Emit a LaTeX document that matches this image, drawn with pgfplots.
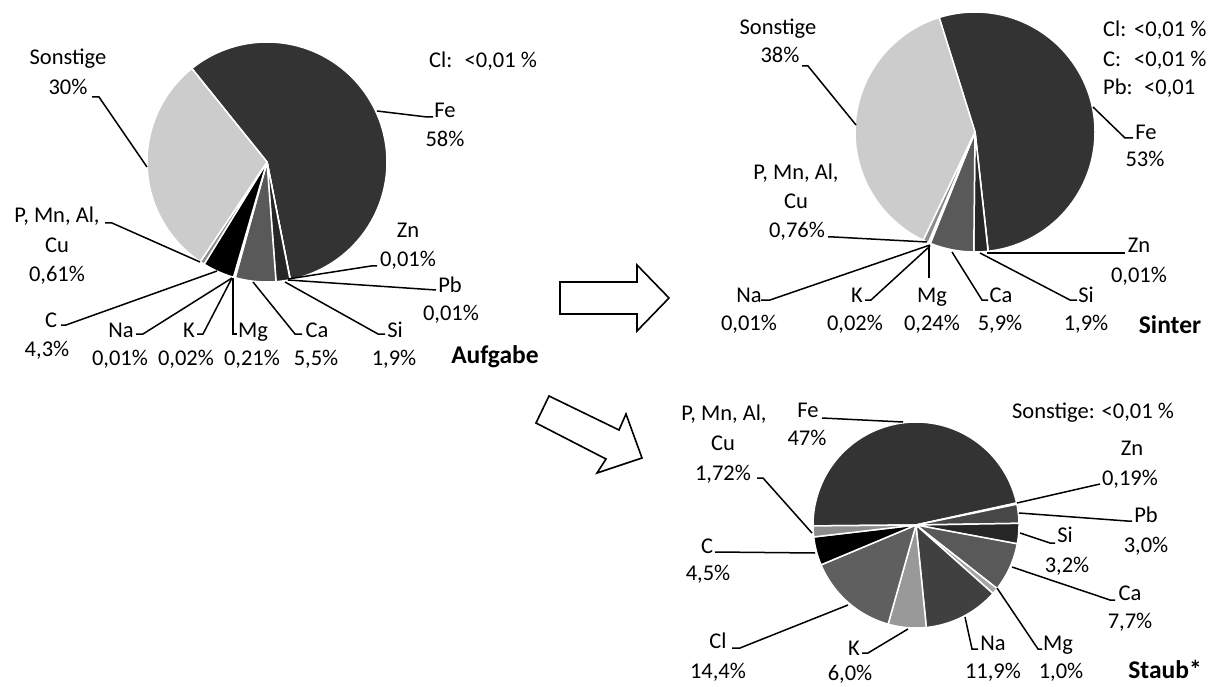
\documentclass[border=0pt]{standalone}
\usepackage{pgfplots}
\pgfplotsset{compat=1.18}
\usepackage{fontspec}
\setmainfont{Carlito}
\definecolor{cFe}{HTML}{333333}
\definecolor{cZn}{HTML}{7F7F7F}
\definecolor{cPb}{HTML}{474747}
\definecolor{cSi}{HTML}{262626}
\definecolor{cCa}{HTML}{595959}
\definecolor{cMg}{HTML}{A6A6A6}
\definecolor{cK}{HTML}{999999}
\definecolor{cNa}{HTML}{404040}
\definecolor{cC}{HTML}{000000}
\definecolor{cCl}{HTML}{5F5F5F}
\definecolor{cP}{HTML}{8C8C8C}
\definecolor{cSo}{HTML}{CCCCCC}

% pie helpers
\newcommand\pieinit[5]{\xdef\cx{#1}\xdef\cy{#2}\xdef\rr{#3}\xdef\curang{#4}\xdef\tot{#5}}
\newcommand\slice[2]{%
  \pgfmathsetmacro\angA{\curang}%
  \pgfmathsetmacro\frac{#1/\tot}%
  \pgfmathsetmacro\angB{\curang-\frac*360}%
  \edef\doslice{\noexpand\addplot[fill=#2,draw=white,line width=1.5pt,line join=round,domain=\angB:\angA,samples=90] ({\cx+\rr*cos(x)},{\cy-\rr*sin(x)}) -- (axis cs:\cx,\cy) -- cycle;}%
  \doslice
  \xdef\curang{\angB}%
}
\newcommand\lb[3]{\node[anchor=base,inner sep=0pt,font=\fontsize{22.5}{27}\selectfont] at (axis cs:#1,#2) {#3};}
\newcommand\lbw[3]{\node[anchor=base west,inner sep=0pt,font=\fontsize{22.5}{27}\selectfont] at (axis cs:#1,#2) {#3};}
\newcommand\lbb[3]{\node[anchor=base,inner sep=0pt,font=\fontsize{25.5}{30}\selectfont\bfseries] at (axis cs:#1,#2) {#3};}
\tikzset{lead/.style={line width=1.5pt,line join=miter}}

\begin{document}
\begin{tikzpicture}
\begin{axis}[width=1216pt,height=687pt,scale only axis,
  xmin=0,xmax=1216,ymin=0,ymax=687,y dir=reverse,hide axis,clip=false]

% ---------- Pie 1: Aufgabe ----------
% values (%): Fe, Zn, Pb, Si, Ca, Mg, K, Na, C, P/Mn/Al/Cu, Sonstige
\pgfmathsetmacro\totA{58+0.01+0.01+1.9+5.5+0.21+0.02+0.01+4.3+0.61+30}
\pieinit{267}{162}{120}{128.8}{\totA}
\slice{58}{cFe}
\slice{0.01}{cZn}
\slice{0.01}{cPb}
\slice{1.9}{cSi}
\slice{5.5}{cCa}
\slice{0.21}{cMg}
\slice{0.02}{cK}
\slice{0.01}{cNa}
\slice{4.3}{cC}
\slice{0.61}{cP}
\slice{30}{cSo}

% ---------- Pie 2: Sinter ----------
\pgfmathsetmacro\totB{53+0.01+1.9+5.9+0.24+0.02+0.01+0.76+38}
\pieinit{975}{132}{120}{107.4}{\totB}
\slice{53}{cFe}
\slice{0.01}{cZn}
\slice{1.9}{cSi}
\slice{5.9}{cCa}
\slice{0.24}{cMg}
\slice{0.02}{cK}
\slice{0.01}{cNa}
\slice{0.76}{cP}
\slice{38}{cSo}

% ---------- Pie 3: Staub ----------
\pgfmathsetmacro\totC{47+0.19+3.0+3.2+7.7+1.0+11.9+6.0+14.4+4.5+1.72}
\pieinit{916}{525}{103}{180.5}{\totC}
\slice{47}{cFe}
\slice{0.19}{cZn}
\slice{3.0}{cPb}
\slice{3.2}{cSi}
\slice{7.7}{cCa}
\slice{1.0}{cMg}
\slice{11.9}{cNa}
\slice{6.0}{cK}
\slice{14.4}{cCl}
\slice{4.5}{cC}
\slice{1.72}{cP}

% ---------- arrows ----------
\draw[line width=1.6pt,fill=white,line join=miter] (560,282) -- (637,282) -- (637,265) -- (669,298) -- (637,331) -- (637,314) -- (560,314) -- cycle;
\draw[line width=1.6pt,fill=white,line join=miter] (549,396) -- (619,430) -- (626,414) -- (642,458) -- (597,473) -- (606,459) -- (536,423) -- cycle;

% ---------- labels pie 1 ----------
\lb{68}{65}{Sonstige}\lb{68}{95}{30\%}
\draw[lead] (92,97) -- (99,97) -- (147,167);
\lbw{429}{68}{Cl:\hspace{0.55em}<0,01 \%}
\lb{445}{118}{Fe}\lb{445}{147}{58\%}
\draw[lead] (377,111) -- (427,117) -- (433,117);
\lb{57}{223}{P, Mn, Al,}\lb{57}{253}{Cu}\lb{57}{282}{0,61\%}
\draw[lead] (105,223) -- (112,223) -- (200,262);
\lb{51}{327}{C}\lb{47}{356}{4,3\%}
\draw[lead] (61,325) -- (66,325) -- (217,271);
\lb{121}{337}{Na}\lb{120}{365}{0,01\%}
\draw[lead] (136,334) -- (143,334) -- (232,278);
\lb{189}{337}{K}\lb{186}{365}{0,02\%}
\draw[lead] (197,334) -- (203,334) -- (232,278);
\lb{253}{337}{Mg}\lb{252}{365}{0,21\%}
\draw[lead] (233,278) -- (233,334) -- (237,334);
\lb{317}{337}{Ca}\lb{316}{365}{5,5\%}
\draw[lead] (253,282) -- (295,334) -- (302,334);
\lb{395}{337}{Si}\lb{394}{365}{1,9\%}
\draw[lead] (285,282) -- (378,334) -- (385,334);
\lb{450}{292}{Pb}\lb{451}{320}{0,01\%}
\draw[lead] (288,280) -- (436,290);
\lb{408}{238}{Zn}\lb{408}{267}{0,01\%}
\draw[lead] (288,279) -- (371,266) -- (377,266);
\lbb{495}{363}{Aufgabe}

% ---------- labels pie 2 ----------
\lb{778}{35}{Sonstige}\lb{780}{63}{38\%}
\draw[lead] (802,66) -- (808,66) -- (856,125);
\lbw{1103}{37}{Cl:}\lbw{1134}{37}{<0,01 \%}
\lbw{1103}{67}{C:}\lbw{1134}{67}{<0,01 \%}
\lbw{1103}{95}{Pb:}\lbw{1144}{95}{<0,01}
\lb{1146}{140}{Fe}\lb{1145}{167}{53\%}
\draw[lead] (1093,107) -- (1125,138) -- (1133,138);
\lb{796}{180}{P, Mn, Al,}\lb{796}{209}{Cu}\lb{797}{238}{0,76\%}
\draw[lead] (828,237) -- (834,237) -- (927,242);
\lb{749}{302}{Na}\lb{749}{330}{0,01\%}
\draw[lead] (761,300) -- (770,300) -- (930,245);
\lb{857}{302}{K}\lb{855}{330}{0,02\%}
\draw[lead] (865,300) -- (871,300) -- (930,246);
\lb{932}{302}{Mg}\lb{932}{330}{0,24\%}
\draw[lead] (929,245) -- (929,278);
\lb{1001}{302}{Ca}\lb{1000}{330}{5,9\%}
\draw[lead] (952,252) -- (982,300) -- (988,300);
\lb{1086}{302}{Si}\lb{1086}{330}{1,9\%}
\draw[lead] (980,253) -- (1070,300) -- (1077,300);
\lb{1139}{253}{Zn}\lb{1139}{283}{0,01\%}
\draw[lead] (987,253) -- (1125,253);
\lbb{1170}{333}{Sinter}

% ---------- labels pie 3 ----------
\lb{724}{420}{P, Mn, Al,}\lb{723}{450}{Cu}\lb{723}{480}{1,72\%}
\draw[lead] (757,478) -- (763,478) -- (812,533);
\lb{808}{417}{Fe}\lb{807}{445}{47\%}
\draw[lead] (822,418) -- (903,422);
\lb{707}{553}{C}\lb{708}{580}{4,5\%}
\draw[lead] (715,552) -- (815,553);
\lb{718}{648}{Cl}\lb{718}{678}{14,4\%}
\draw[lead] (732,648) -- (740,648) -- (848,605);
\lb{854}{655}{K}\lb{850}{680}{6,0\%}
\draw[lead] (862,653) -- (868,653) -- (908,629);
\lb{1093}{418}{Sonstige: <0,01 \%}
\lb{1132}{455}{Zn}\lb{1130}{485}{0,19\%}
\draw[lead] (1017,503) -- (1100,484);
\lb{1146}{522}{Pb}\lb{1146}{552}{3,0\%}
\draw[lead] (1019,513) -- (1127,521) -- (1132,521);
\lb{1065}{542}{Si}\lb{1067}{572}{3,2\%}
\draw[lead] (1020,533) -- (1050,543) -- (1055,543);
\lb{1130}{600}{Ca}\lb{1130}{628}{7,7\%}
\draw[lead] (1012,567) -- (1110,600) -- (1115,600);
\lb{1058}{650}{Mg}\lb{1061}{678}{1,0\%}
\draw[lead] (997,588) -- (1038,649) -- (1042,649);
\lb{993}{650}{Na}\lb{993}{678}{11,9\%}
\draw[lead] (965,617) -- (972,649) -- (978,649);
\lbb{1165}{678}{Staub*}
\end{axis}
\pgfresetboundingbox
\useasboundingbox (current axis.south west) rectangle (current axis.north east);
\end{tikzpicture}
\end{document}
